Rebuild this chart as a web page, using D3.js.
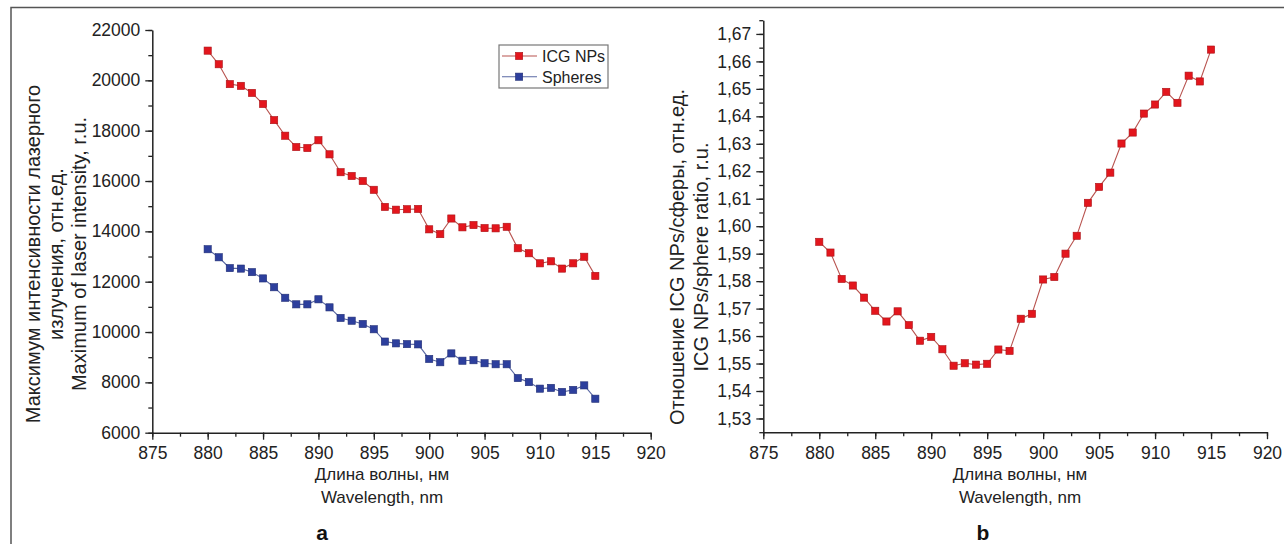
<!DOCTYPE html>
<html>
<head>
<meta charset="utf-8">
<script src="https://cdn.jsdelivr.net/npm/d3@7"></script>
<style>
  body { margin: 0; background: #fff; }
  text { font-family: "Liberation Sans", Arial, sans-serif; }
</style>
</head>
<body>
<svg id="vis" width="1284" height="544"></svg>
<script>
// wavelengths, nm
const wavelength = [880, 881, 882, 883, 884, 885, 886, 887, 888, 889, 890, 891, 892, 893, 894, 895, 896, 897,
  898, 899, 900, 901, 902, 903, 904, 905, 906, 907, 908, 909, 910, 911, 912, 913, 914, 915];

// panel a: max laser intensity, r.u.
const icgNPs = [21180, 20640, 19850, 19780, 19500, 19060, 18420, 17800, 17350, 17310, 17620, 17060, 16350, 16200,
  16000, 15650, 14970, 14860, 14880, 14890, 14080, 13890, 14510, 14160, 14250, 14130, 14120, 14180, 13330, 13130,
  12730, 12810, 12520, 12730, 12990, 12230];
const spheres = [13290, 12970, 12540, 12520, 12380, 12130, 11780, 11360, 11100, 11100, 11300, 10980, 10560, 10450,
  10320, 10110, 9620, 9550, 9520, 9510, 8930, 8800, 9150, 8860, 8880, 8760, 8720, 8720, 8170, 8010,
  7750, 7780, 7620, 7700, 7880, 7350];

// panel b: ICG NPs / sphere ratio
const ratio = [1.5943, 1.5904, 1.5808, 1.5784, 1.5740, 1.5692, 1.5653, 1.5690, 1.5640, 1.5583, 1.5597, 1.5552,
  1.5492, 1.5501, 1.5496, 1.5499, 1.5551, 1.5546, 1.5663, 1.5681, 1.5806, 1.5815, 1.5900, 1.5965, 1.6085,
  1.6143, 1.6195, 1.6301, 1.6341, 1.6410, 1.6443, 1.6489, 1.6449, 1.6548, 1.6527, 1.6643];

const xTicks = [875, 880, 885, 890, 895, 900, 905, 910, 915, 920];
const yTicksA = [6000, 8000, 10000, 12000, 14000, 16000, 18000, 20000, 22000];
const yTicksB = [1.53, 1.54, 1.55, 1.56, 1.57, 1.58, 1.59, 1.60, 1.61, 1.62, 1.63, 1.64, 1.65, 1.66, 1.67];

const seriesNames = ["ICG NPs", "Spheres"];

const RED = "#e3161d", RED_LINE = "#b8534f";
const BLUE = "#2d3f9d", BLUE_LINE = "#5a68a3";

const svg = d3.select("#vis");
svg.append("rect").attr("width", 1284).attr("height", 544).attr("fill", "#fff");

// outer frame of the figure
svg.append("rect")
  .attr("x", 11).attr("y", 7.5).attr("width", 1300).attr("height", 560)
  .attr("fill", "none").attr("stroke", "#555").attr("stroke-width", 1.5);

function range(a, b, step) {
  let out = [];
  for (let v = a; v <= b + step / 1000; v += step) out.push(+v.toFixed(4));
  return out;
}

function drawAxes(g, x, y, yTicks, yMinor, fmt) {
  // minor ticks first
  g.append("g")
    .attr("transform", `translate(0, ${y.range()[0]})`)
    .call(d3.axisBottom(x).tickValues(range(875, 920, 2.5)).tickSize(4).tickFormat(""))
    .call(s => s.select(".domain").remove());
  g.append("g")
    .attr("transform", `translate(${x.range()[0]}, 0)`)
    .call(d3.axisLeft(y).tickValues(yMinor).tickSize(4).tickFormat(""))
    .call(s => s.select(".domain").remove());

  g.append("g")
    .attr("transform", `translate(0, ${y.range()[0]})`)
    .call(d3.axisBottom(x).tickValues(xTicks).tickSizeInner(7).tickSizeOuter(0).tickPadding(7));
  g.append("g")
    .attr("transform", `translate(${x.range()[0]}, 0)`)
    .call(d3.axisLeft(y).tickValues(yTicks).tickFormat(fmt).tickSizeInner(7).tickSizeOuter(0).tickPadding(5));

  g.selectAll(".tick line").attr("stroke", "#222").attr("stroke-width", 1.3);
  g.selectAll(".domain").attr("stroke", "#222").attr("stroke-width", 1.5);
  g.selectAll(".tick text")
    .attr("font-size", 17.5)
    .attr("font-family", "Liberation Sans, Arial, sans-serif")
    .attr("fill", "#222");
}

function drawSeries(g, x, y, values, color, lineColor) {
  let line = d3.line()
    .x((d, i) => x(wavelength[i]))
    .y(d => y(d));
  g.append("path")
    .datum(values)
    .attr("d", line)
    .attr("fill", "none")
    .attr("stroke", lineColor)
    .attr("stroke-width", 1.1);
  g.selectAll(null)
    .data(values)
    .enter().append("rect")
      .attr("x", (d, i) => x(wavelength[i]) - 3.6)
      .attr("y", d => y(d) - 3.6)
      .attr("width", 7.2)
      .attr("height", 7.2)
      .attr("fill", color)
      .attr("stroke", d3.color(color).darker(0.8))
      .attr("stroke-width", 0.6);
}

function yTitle(lines, cx, cy, spacing) {
  let t = svg.append("text")
    .attr("transform", `translate(${cx}, ${cy}) rotate(-90)`)
    .attr("text-anchor", "middle")
    .attr("font-size", 20)
    .attr("fill", "#222");
  lines.forEach((s, i) => {
    t.append("tspan").attr("x", 0).attr("y", i * spacing).text(s);
  });
}

function xTitle(cx) {
  svg.append("text")
    .attr("x", cx).attr("y", 480)
    .attr("text-anchor", "middle")
    .attr("font-family", "Open Sans, sans-serif")
    .attr("font-size", 17)
    .attr("fill", "#222")
    .text("Длина волны, нм");
  svg.append("text")
    .attr("x", cx).attr("y", 503)
    .attr("text-anchor", "middle")
    .attr("font-family", "Open Sans, sans-serif")
    .attr("font-size", 17)
    .attr("fill", "#222")
    .text("Wavelength, nm");
}

// ---------- panel a ----------
let xA = d3.scaleLinear().domain([875, 920]).range([152.3, 650.7]);
let yA = d3.scaleLinear().domain([6000, 22000]).range([432.7, 30]);
let gA = svg.append("g");
drawAxes(gA, xA, yA, yTicksA, range(6000, 22000, 1000), d3.format("d"));
drawSeries(gA, xA, yA, spheres, BLUE, BLUE_LINE);
drawSeries(gA, xA, yA, icgNPs, RED, RED_LINE);

yTitle(["Максимум интенсивности лазерного", "излучения, отн.ед.", "Maximum of laser intensity, r.u."], 40, 254, 23);
xTitle(382);

// legend
let lg = svg.append("g");
lg.append("rect")
  .attr("x", 499).attr("y", 45).attr("width", 109).attr("height", 43)
  .attr("fill", "#fff").attr("stroke", "#777").attr("stroke-width", 1.2);
[[RED, RED_LINE], [BLUE, BLUE_LINE]].forEach((c, i) => {
  let yy = 56 + i * 20.7;
  lg.append("line").attr("x1", 502).attr("x2", 537).attr("y1", yy).attr("y2", yy)
    .attr("stroke", c[1]).attr("stroke-width", 1.1);
  lg.append("rect").attr("x", 515.5).attr("y", yy - 3.6).attr("width", 7.2).attr("height", 7.2)
    .attr("fill", c[0]).attr("stroke", d3.color(c[0]).darker(0.8)).attr("stroke-width", 0.6);
  lg.append("text").attr("x", 542).attr("y", yy + 6)
    .attr("font-size", 16).attr("fill", "#222").text(seriesNames[i]);
});

// ---------- panel b ----------
let xB = d3.scaleLinear().domain([875, 920]).range([763.3, 1267]);
let yB = d3.scaleLinear().domain([1.525, 1.675]).range([432.2, 20.2]);
let gB = svg.append("g");
drawAxes(gB, xB, yB, yTicksB, range(1.525, 1.675, 0.005), d => d3.format(".2f")(d).replace(".", ","));
drawSeries(gB, xB, yB, ratio, RED, RED_LINE);

yTitle(["Отношение ICG NPs/сферы, отн.ед.", "ICG NPs/sphere ratio, r.u."], 684, 257, 24);
xTitle(1020);

// panel letters
svg.append("text").attr("x", 322).attr("y", 540).attr("text-anchor", "middle")
  .attr("font-size", 21).attr("font-weight", "bold").attr("fill", "#111").text("a");
svg.append("text").attr("x", 983).attr("y", 540).attr("text-anchor", "middle")
  .attr("font-size", 21).attr("font-weight", "bold").attr("fill", "#111").text("b");
</script>
</body>
</html>
